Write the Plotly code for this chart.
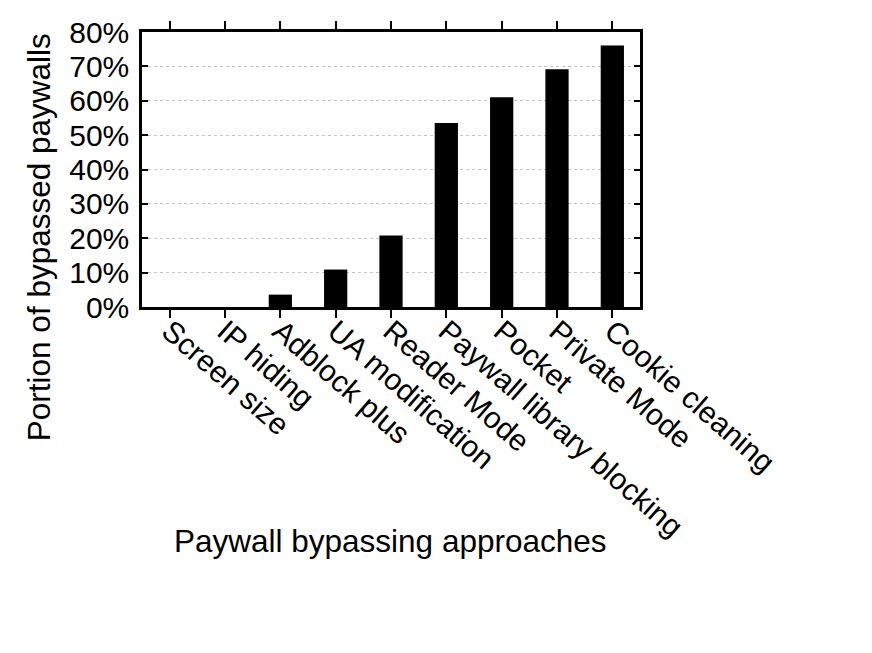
import plotly.graph_objects as go

approaches = ["Screen size", "IP hiding", "Adblock plus", "UA modification",
              "Reader Mode", "Paywall library blocking", "Pocket",
              "Private Mode", "Cookie cleaning"]
bypassed_pct = [0.0, 0.0, 3.6, 10.9, 20.8, 53.5, 61.0, 69.2, 76.1]
y_ticks = [0, 10, 20, 30, 40, 50, 60, 70, 80]
y_ticklabels = [f"{v}%" for v in y_ticks]

FONT = "Liberation Sans, Arial, Helvetica, sans-serif"

# page body has an 8px margin, so plot box is given in figure coords
PL, PR, PT, PB = 134, 632, 24.4, 298.6

fig = go.Figure()
fig.add_trace(go.Bar(x=list(range(len(approaches))), y=bypassed_pct,
                     width=0.42, marker=dict(color="black", line=dict(width=0))))

fig.update_xaxes(range=[-0.5, 8.5],
                 tickmode="array", tickvals=list(range(len(approaches))),
                 ticktext=approaches, tickangle=41,
                 ticks="outside", ticklen=8, tickwidth=1.5, tickcolor="black",
                 showline=True, linecolor="black", linewidth=2.5, mirror="ticks",
                 showgrid=False, zeroline=False, ticklabelstandoff=-16,
                 tickfont=dict(family=FONT, size=30, color="black"))
fig.update_yaxes(range=[0, 80],
                 tickmode="array", tickvals=y_ticks, ticktext=y_ticklabels,
                 ticks="inside", ticklen=6, tickwidth=1.5, tickcolor="black",
                 showline=True, linecolor="black", linewidth=2.5, mirror="ticks",
                 showgrid=True, gridcolor="#c4c4c4", gridwidth=1, griddash="dot",
                 zeroline=False, ticklabelstandoff=4,
                 tickfont=dict(family=FONT, size=30, color="black"))

# axis titles placed by hand, like the original
fig.add_annotation(text="Paywall bypassing approaches", xref="paper", yref="paper",
                   x=(382 - PL) / (PR - PL), y=-(532 - PB) / (PB - PT),
                   showarrow=False, xanchor="center", yanchor="middle",
                   font=dict(family=FONT, size=31.5, color="black"))
fig.add_annotation(text="Portion of bypassed paywalls", xref="paper", yref="paper",
                   x=-(PL - 31) / (PR - PL), y=1 - (229 - PT) / (PB - PT), textangle=-90,
                   showarrow=False, xanchor="center", yanchor="middle",
                   font=dict(family=FONT, size=31.5, color="black"))

fig.update_layout(width=872, height=653, showlegend=False,
                  plot_bgcolor="white", paper_bgcolor="white",
                  margin=dict(l=PL, r=872 - PR, t=PT, b=653 - PB, autoexpand=False))

fig.write_html("out.html")
